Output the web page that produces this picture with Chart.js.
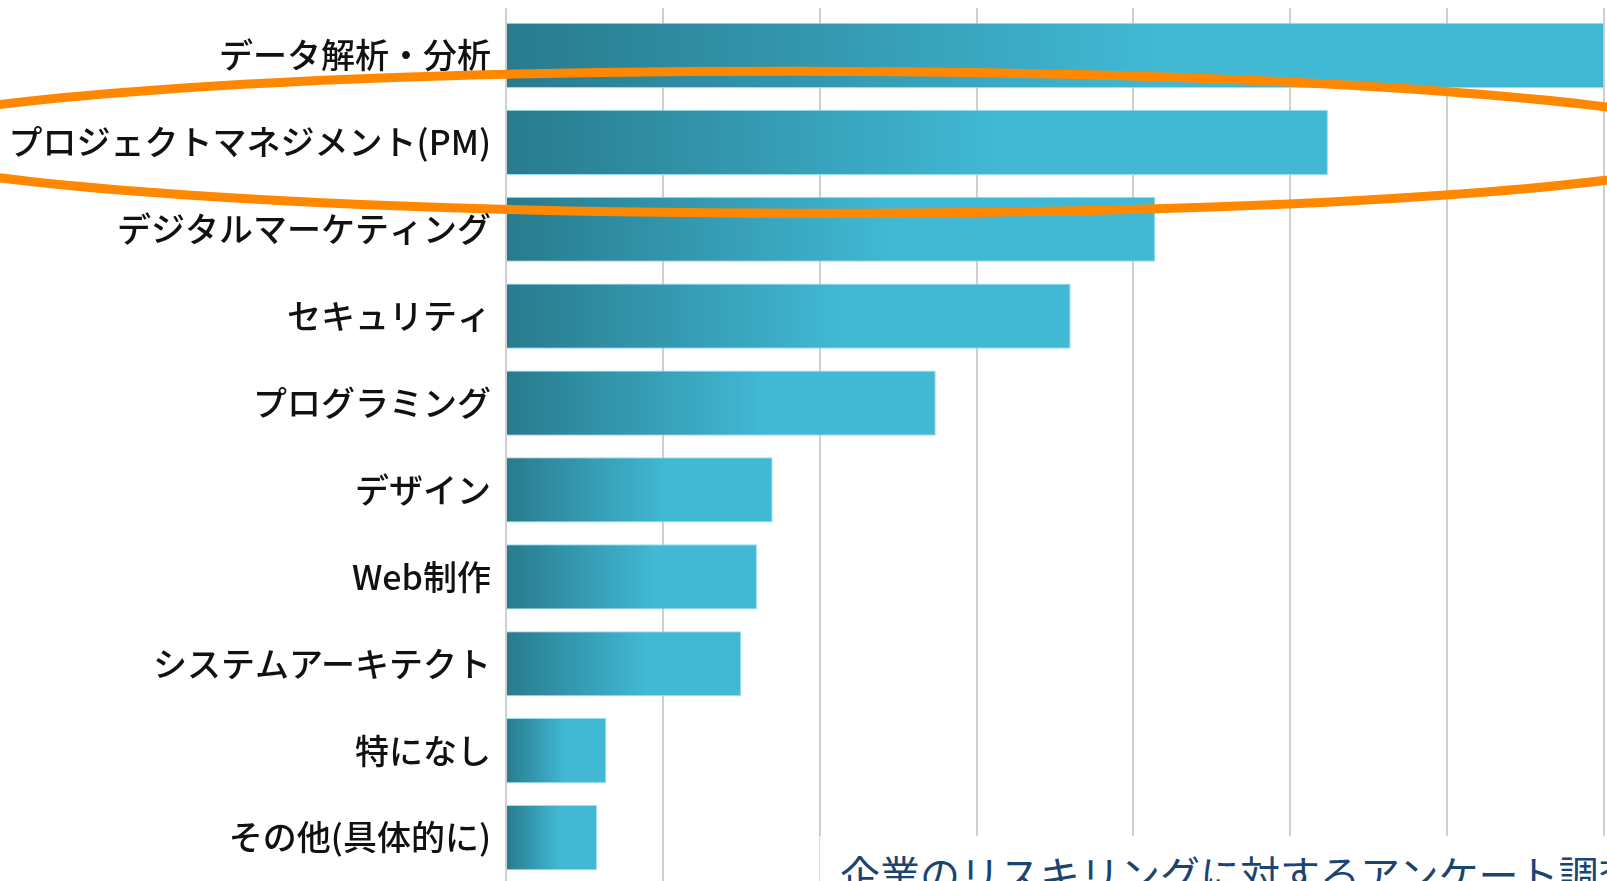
<!DOCTYPE html>
<html lang="ja">
<head>
<meta charset="utf-8">
<script src="https://cdn.jsdelivr.net/npm/chart.js@4.4.0/dist/chart.umd.min.js"></script>
<style>
  html, body { margin: 0; padding: 0; background: #ffffff; overflow: hidden; }
  #wrap { position: relative; width: 1607px; height: 881px; }
  #c { display: block; }
  #caption {
    position: absolute; left: 819px; top: 836px; width: 800px; height: 45px;
    background: #ffffff; border-left: 1px solid #d6d6d6; overflow: hidden;
  }
  #caption span {
    display: block; padding-left: 20px; padding-top: 17px;
    font-family: "Noto Sans CJK JP", sans-serif; font-size: 40px; line-height: 1;
    color: #1b4571; white-space: nowrap;
  }
</style>
</head>
<body>
<div id="wrap">
  <canvas id="c" width="1607" height="881"></canvas>
  <div id="caption"><span>企業のリスキリングに対するアンケート調査</span></div>
</div>
<script>
// ---- data (axis has no printed tick labels, unit = 1/5 grid step) ----
const categories = [
  "データ解析・分析",
  "プロジェクトマネジメント(PM)",
  "デジタルマーケティング",
  "セキュリティ",
  "プログラミング",
  "デザイン",
  "Web制作",
  "システムアーキテクト",
  "特になし",
  "その他(具体的に)"
];
const values = [35, 26.2, 20.7, 18.0, 13.7, 8.5, 8.0, 7.5, 3.2, 2.9];
const axisMax = 35;
const axisStep = 5;
const highlightedIndex = 1;

const DARK = "#287b8d";
const LIGHT = "#41b9d5";

const ellipsePlugin = {
  id: "highlightEllipse",
  afterDraw(chart) {
    const ys = chart.scales.y;
    const cy = ys.getPixelForValue(highlightedIndex);
    const ctx = chart.ctx;
    ctx.save();
    ctx.beginPath();
    ctx.ellipse(803, cy, 938, 71, 0.0015, 0, Math.PI * 2);
    ctx.lineWidth = 9;
    ctx.strokeStyle = "#ff8800";
    ctx.stroke();
    ctx.restore();
  }
};

new Chart(document.getElementById("c"), {
  type: "bar",
  data: {
    labels: categories,
    datasets: [{
      data: values,
      backgroundColor: (ctx) => {
        const chart = ctx.chart;
        const xs = chart.scales.x;
        if (ctx.type !== "data" || !xs) return LIGHT;
        const x0 = xs.getPixelForValue(0);
        const x1 = xs.getPixelForValue(ctx.raw);
        if (!isFinite(x0) || !isFinite(x1) || x1 <= x0) return LIGHT;
        const g = chart.ctx.createLinearGradient(x0, 0, x1, 0);
        g.addColorStop(0, DARK);
        g.addColorStop(0.6, LIGHT);
        g.addColorStop(1, LIGHT);
        return g;
      },
      borderColor: "rgba(140,220,238,0.9)",
      borderWidth: 1,
      borderSkipped: "start",
      categoryPercentage: 1.0,
      barPercentage: 0.75
    }]
  },
  options: {
    indexAxis: "y",
    responsive: false,
    animation: false,
    events: [],
    layout: { padding: { top: 8, right: 3, left: 0, bottom: 0 } },
    plugins: { legend: { display: false }, tooltip: { enabled: false }, title: { display: false } },
    scales: {
      x: {
        position: "top",
        min: 0, max: axisMax,
        ticks: { display: false, stepSize: axisStep },
        grid: { color: "#cfcfcf", lineWidth: 2, drawTicks: true, tickLength: 4 },
        border: { display: false }
      },
      y: {
        grid: { display: false, drawTicks: false },
        border: { display: false },
        ticks: {
          color: "#111111",
          padding: 15,
          font: { family: "'Noto Sans CJK JP', sans-serif", size: 34, weight: "500" }
        },
        afterFit(scale) {
          scale.width = 506;
          scale.paddingTop = 0;
          scale.paddingBottom = 0;
        }
      }
    }
  },
  plugins: [ellipsePlugin]
});
</script>
</body>
</html>
